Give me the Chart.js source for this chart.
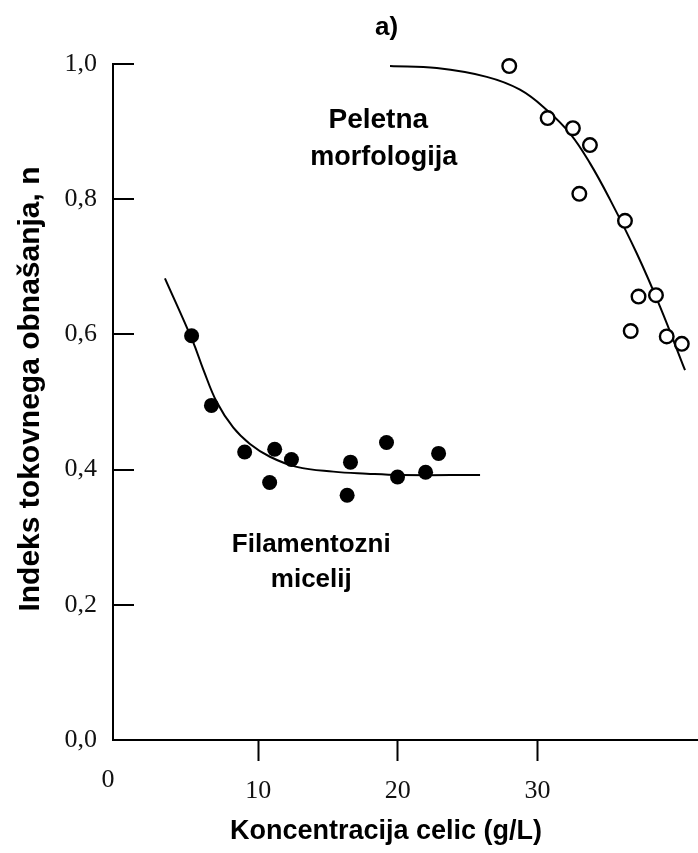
<!DOCTYPE html>
<html>
<head>
<meta charset="utf-8">
<script src="https://cdn.jsdelivr.net/npm/chart.js@4.4.1/dist/chart.umd.min.js"></script>
<style>
  html, body { margin: 0; padding: 0; background: #fff; }
  #wrap { width: 698px; height: 853px; }
</style>
</head>
<body>
<div id="wrap"><canvas id="chart"></canvas></div>
<script>
// filamentozni micelij (polni krogi)
const filX = [5.23, 6.65, 9.03, 11.18, 10.82, 12.38, 16.61, 16.37, 19.19, 19.98, 21.99, 22.92];
const filY = [0.598, 0.495, 0.426, 0.430, 0.381, 0.415, 0.411, 0.362, 0.440, 0.389, 0.396, 0.424];
// peletna morfologija (prazni krogi)
const pelX = [27.98, 30.73, 32.54, 33.76, 33.00, 36.27, 37.24, 38.49, 36.68, 39.26, 40.34];
const pelY = [0.997, 0.920, 0.905, 0.880, 0.808, 0.768, 0.656, 0.658, 0.605, 0.597, 0.586];
// krivulji
const filCurveX = [3.32, 5.31, 6.07, 7.03, 8.22, 9.41, 10.84, 12.76, 15.38, 17.77, 20.16, 25.89];
const filCurveY = [0.683, 0.590, 0.548, 0.500, 0.462, 0.438, 0.419, 0.404, 0.397, 0.394, 0.392, 0.392];
const pelCurveX = [19.44, 22.79, 26.37, 28.75, 30.67, 32.34, 33.77, 35.21, 37.11, 38.78, 40.57];
const pelCurveY = [0.997, 0.994, 0.981, 0.962, 0.932, 0.897, 0.853, 0.799, 0.720, 0.641, 0.547];

const yTicks = [0, 0.2, 0.4, 0.6, 0.8, 1.0];
const xTicks = [10, 20, 30];

const xTitle = 'Koncentracija celic (g/L)';
const yTitle = 'Indeks tokovnega obnašanja, n';
const notes = [
  { text: 'a)', x: 19.2, y: 1.053, size: 26 },
  { text: 'Peletna', x: 18.6, y: 0.917, size: 28 },
  { text: 'morfologija', x: 19.0, y: 0.862, size: 27 },
  { text: 'Filamentozni', x: 13.8, y: 0.288, size: 26 },
  { text: 'micelij', x: 13.8, y: 0.237, size: 26 }
];

const toPts = (xs, ys) => xs.map((v, i) => ({ x: v, y: ys[i] }));
const SANS = '"Liberation Sans", Arial, sans-serif';
const SERIF = '"Liberation Serif", "Times New Roman", serif';

const extras = {
  id: 'extras',
  afterDraw(chart) {
    const { ctx, chartArea, scales: { x, y } } = chart;
    ctx.save();
    // notranje oznake na osi y
    ctx.strokeStyle = '#000';
    ctx.lineWidth = 2;
    yTicks.forEach(v => {
      if (v === 0) return;
      const py = Math.round(y.getPixelForValue(v));
      ctx.beginPath();
      ctx.moveTo(chartArea.left, py);
      ctx.lineTo(chartArea.left + 21, py);
      ctx.stroke();
    });
    // "0" pod izhodiščem
    ctx.fillStyle = '#111';
    ctx.font = '26px ' + SERIF;
    ctx.textAlign = 'center';
    ctx.textBaseline = 'middle';
    ctx.fillText('0', chartArea.left - 5, chartArea.bottom + 40);
    // napisi
    ctx.fillStyle = '#000';
    notes.forEach(n => {
      ctx.font = 'bold ' + n.size + 'px ' + SANS;
      ctx.fillText(n.text, x.getPixelForValue(n.x), y.getPixelForValue(n.y));
    });
    // naslova osi
    ctx.font = 'bold 27px ' + SANS;
    ctx.fillText(xTitle, 386, 832);
    ctx.translate(31, 389);
    ctx.rotate(-Math.PI / 2);
    ctx.font = 'bold 30px ' + SANS;
    ctx.fillText(yTitle, 0, 0);
    ctx.restore();
  }
};

new Chart(document.getElementById('chart'), {
  type: 'scatter',
  data: {
    datasets: [
      {
        data: toPts(filX, filY),
        backgroundColor: '#000',
        borderColor: '#000',
        pointRadius: 7.5,
        borderWidth: 0,
        clip: false
      },
      {
        data: toPts(pelX, pelY),
        backgroundColor: '#fff',
        borderColor: '#000',
        pointRadius: 6.8,
        borderWidth: 2.4,
        clip: false
      },
      {
        type: 'line',
        data: toPts(filCurveX, filCurveY),
        borderColor: '#000',
        borderWidth: 2,
        pointRadius: 0,
        tension: 0.4,
        fill: false,
        clip: false
      },
      {
        type: 'line',
        data: toPts(pelCurveX, pelCurveY),
        borderColor: '#000',
        borderWidth: 2,
        pointRadius: 0,
        tension: 0.4,
        fill: false,
        clip: false
      }
    ]
  },
  options: {
    responsive: true,
    maintainAspectRatio: false,
    animation: false,
    layout: { autoPadding: false, padding: { top: 64, right: 0, bottom: 0, left: 0 } },
    plugins: {
      legend: { display: false },
      tooltip: { enabled: false }
    },
    scales: {
      x: {
        type: 'linear',
        min: -0.4,
        max: 41.5,
        afterBuildTicks: s => { s.ticks = xTicks.map(v => ({ value: v })); },
        afterFit: s => { s.height = 113; },
        border: { display: true, color: '#000', width: 2 },
        grid: { drawOnChartArea: false, tickLength: 21, tickWidth: 2, tickColor: '#000' },
        ticks: {
          padding: 15,
          color: '#111',
          font: { family: SERIF, size: 26 }
        }
      },
      y: {
        min: 0,
        max: 1.0,
        afterBuildTicks: s => { s.ticks = yTicks.map(v => ({ value: v })); },
        afterFit: s => { s.width = 113; },
        border: { display: true, color: '#000', width: 2 },
        grid: { drawOnChartArea: false, drawTicks: false, tickLength: 0 },
        ticks: {
          padding: 16,
          color: '#111',
          font: { family: SERIF, size: 26 },
          callback: v => v.toFixed(1).replace('.', ',')
        }
      }
    }
  },
  plugins: [extras]
});
</script>
</body>
</html>
